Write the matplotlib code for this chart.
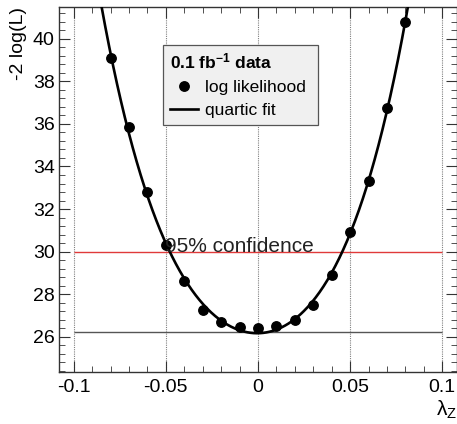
import matplotlib

matplotlib.use("Agg")

import matplotlib.pyplot as plt
import numpy as np
from matplotlib.lines import Line2D
from matplotlib.ticker import MultipleLocator

plt.rcParams["font.family"] = ["Liberation Sans", "DejaVu Sans"]
plt.rcParams["mathtext.fontset"] = "custom"
plt.rcParams["mathtext.rm"] = "Liberation Sans"
plt.rcParams["mathtext.it"] = "Liberation Sans:italic"
plt.rcParams["mathtext.bf"] = "Liberation Sans:bold"

# scan points
lambda_z = [-0.08, -0.07, -0.06, -0.05, -0.04, -0.03, -0.02, -0.01, 0.0,
            0.01, 0.02, 0.03, 0.04, 0.05, 0.06, 0.07, 0.08]
neg2logl = [39.1, 35.85, 32.8, 30.3, 28.6, 27.25, 26.7, 26.44, 26.39,
            26.5, 26.8, 27.5, 28.9, 30.9, 33.3, 36.75, 40.8]
conf_level = 30.0
min_level = 26.2
fit_range = (-0.085, 0.085)


def main() -> None:
    x = np.asarray(lambda_z)
    y = np.asarray(neg2logl)
    coeffs = np.polyfit(x, y, 4)
    xf = np.linspace(fit_range[0], fit_range[1], 400)
    yf = np.polyval(coeffs, xf)

    fig = plt.figure(figsize=(4.57, 4.24), dpi=100)
    ax = fig.add_axes([0.129, 0.1233, 0.871, 0.8602])
    ax.set_xlim(-0.108, 0.108)
    ax.set_ylim(24.35, 41.5)

    for gx in [-0.1, -0.05, 0.0, 0.05, 0.1]:
        ax.axvline(gx, color="#808080", lw=0.8, ls=(0, (1, 1)), zorder=1)

    ax.hlines(conf_level, -0.1, 0.1, color="#e03a3a", lw=1.0, zorder=2)
    ax.hlines(min_level, -0.1, 0.1, color="#555555", lw=1.0, zorder=2)

    ax.plot(xf, yf, color="black", lw=1.9, zorder=3)
    ax.plot(x, y, "o", color="black", ms=6.8, zorder=4)

    ax.text(-0.0505, conf_level, "95% confidence", fontsize=15,
            ha="left", va="baseline", color="#222222", zorder=5)

    ax.xaxis.set_major_locator(MultipleLocator(0.05))
    ax.xaxis.set_minor_locator(MultipleLocator(0.01))
    ax.yaxis.set_major_locator(MultipleLocator(2))
    ax.yaxis.set_minor_locator(MultipleLocator(0.4))
    ax.set_xticks([-0.1, -0.05, 0, 0.05, 0.1])
    ax.set_xticklabels(["-0.1", "-0.05", "0", "0.05", "0.1"])
    ax.set_yticks([26, 28, 30, 32, 34, 36, 38, 40])
    ax.tick_params(which="both", direction="in", top=True, right=True,
                   labelsize=14, color="#333333")
    ax.tick_params(axis="x", which="major", length=8, pad=5)
    ax.tick_params(axis="y", which="major", length=8, pad=3)
    ax.tick_params(which="minor", length=4.5)
    for sp in ax.spines.values():
        sp.set_linewidth(1.0)
        sp.set_color("#333333")

    ax.set_ylabel("-2 log(L)", fontsize=14, loc="top", labelpad=4)
    ax.set_xlabel(r"$\mathrm{\lambda_Z}$", fontsize=15, loc="right", labelpad=2)

    handles = [
        Line2D([], [], ls="none", marker="o", color="black", ms=6.8),
        Line2D([], [], color="black", lw=1.9),
    ]
    leg = ax.legend(
        handles, ["log likelihood", "quartic fit"],
        title=r"$\mathbf{0.1\ fb^{-1}\ data}$",
        title_fontproperties={"size": 12.5, "weight": "bold"},
        alignment="left",
        loc="upper left",
        bbox_to_anchor=(0.262, 0.7, 0.39, 0.196),
        mode="expand",
        borderaxespad=0,
        fontsize=12.5,
        handlelength=1.6,
        handletextpad=0.4,
        labelspacing=0.45,
        borderpad=0.4,
        fancybox=False,
        framealpha=1,
        facecolor="#f0f0f0",
        edgecolor="#555555",
    )
    leg.get_frame().set_linewidth(0.9)
    leg.set_zorder(6)

    fig.savefig("out.png", dpi=100)


if __name__ == "__main__":
    main()
